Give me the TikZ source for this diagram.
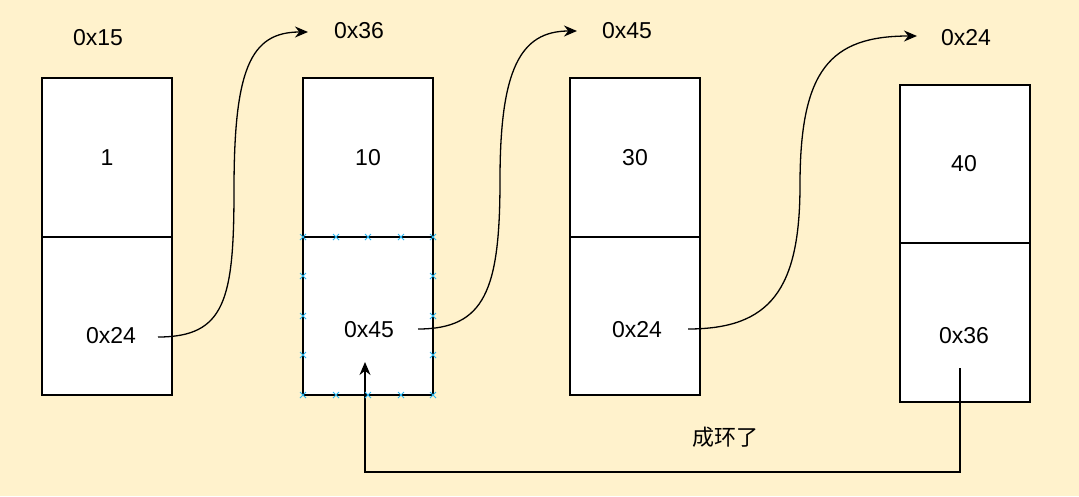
\documentclass[tikz,border=0pt]{standalone}
\usepackage{fontspec}
\setmainfont{Liberation Sans}
\newfontfamily\cjk{Noto Sans CJK SC}
\usetikzlibrary{arrows.meta}
\definecolor{bg}{HTML}{FFF2CC}
\definecolor{sel}{HTML}{29B6F2}
\begin{document}
\begin{tikzpicture}[x=1pt,y=-1pt,
  cell/.style={draw=black,fill=white,line width=1.3pt},
  lbl/.style={font=\fontsize{23}{26}\selectfont},
  link/.style={line width=1.3pt,-{Stealth[length=13pt,width=11pt]}},
  mk/.style={sel,line width=0.9pt}]
\fill[bg] (0,0) rectangle (1079,496);
\useasboundingbox (0,0) rectangle (1079,496);
\draw[cell] (42,78) rectangle (172,237); \draw[cell] (42,237) rectangle (172,395);
\draw[cell] (303,78) rectangle (433,237); \draw[cell] (303,237) rectangle (433,395);
\draw[cell] (570,78) rectangle (700,237); \draw[cell] (570,237) rectangle (700,395);
\draw[cell] (900,85) rectangle (1030,243); \draw[cell] (900,243) rectangle (1030,402);
\node[lbl] (v1) at (107,158) {1};
\node[lbl] (p1) at (111,336) {0x24};
\node[lbl] (v2) at (368,158) {10};
\node[lbl] (p2) at (369,330) {0x45};
\node[lbl] (v3) at (635,158) {30};
\node[lbl] (p3) at (637,330) {0x24};
\node[lbl] (v4) at (964,164) {40};
\node[lbl] (p4) at (964,336) {0x36};
\node[lbl] (a1) at (98,38) {0x15};
\node[lbl] (a2) at (359,31) {0x36};
\node[lbl] (a3) at (627,31) {0x45};
\node[lbl] (a4) at (966,38) {0x24};
\node[font=\cjk\fontsize{22}{26}\selectfont] (ring) at (725,437) {成环了};
\coordinate (s1) at (158,337); \coordinate (e1) at (308,32);
\coordinate (s2) at (418,329); \coordinate (e2) at (577,31);
\coordinate (s3) at (688,329); \coordinate (e3) at (917,36);
\coordinate (s4) at (960,368); \coordinate (e4) at (365,362);
\draw[link] (s1) .. controls (225,337) and (234,300) .. (234,190) .. controls (234,70) and (250,32) .. (e1);
\draw[link] (s2) .. controls (485,329) and (500,290) .. (500,180) .. controls (500,70) and (520,31) .. (e2);
\draw[link] (s3) .. controls (770,329) and (800,290) .. (800,185) .. controls (800,70) and (830,36) .. (e3);
\draw[link] (s4) -- (960,472) -- (365,472) -- (e4);
\foreach \p in {(303,237),(336,237),(368,237),(401,237),(433,237),(303,395),(336,395),(368,395),(401,395),(433,395),(303,276),(303,316),(303,355),(433,276),(433,316),(433,355)}{
  \draw[mk] \p ++(-3,-3) -- ++(6,6) \p ++(-3,3) -- ++(6,-6);}
\end{tikzpicture}
\end{document}
